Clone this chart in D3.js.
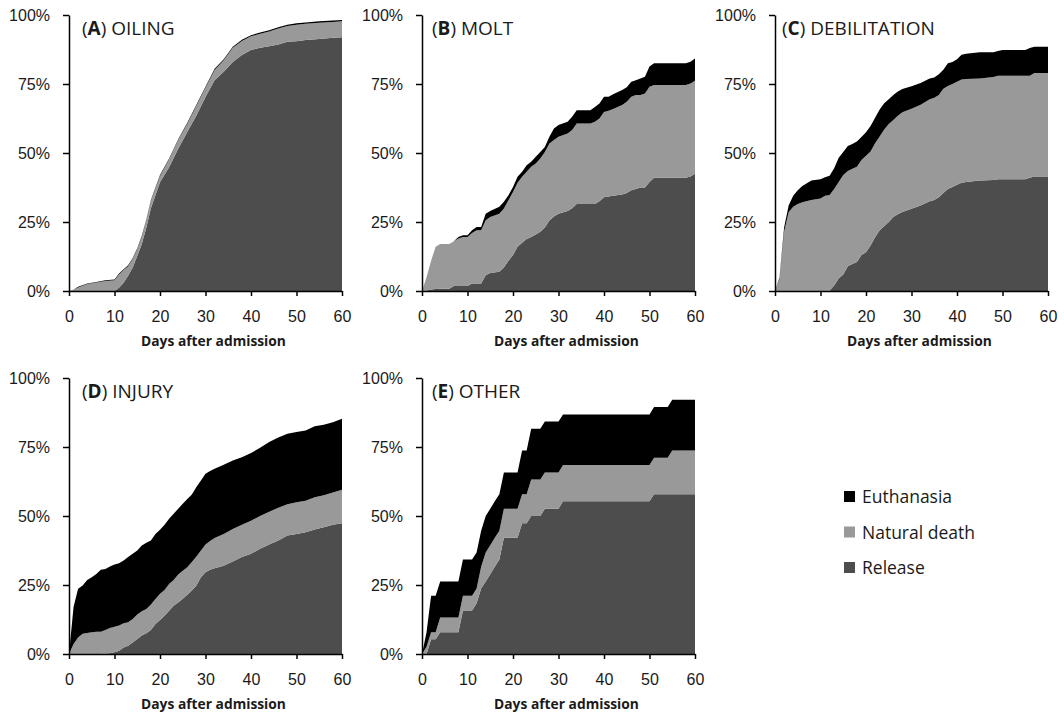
<!DOCTYPE html>
<html>
<head>
<meta charset="utf-8">
<script src="https://cdn.jsdelivr.net/npm/d3@7"></script>
<style>
  body { margin: 0; background: #fff; }
  svg { display: block; font-family: "Open Sans", sans-serif; }
  .axis path, .axis line { stroke: #000; stroke-width: 1.5; }
  .axis text { font-size: 16px; fill: #1a1a1a; }
</style>
</head>
<body>
<div id="chart"></div>
<script>
/* Values are percent of birds */
const causes = ["Release", "Natural death", "Euthanasia"];

const daysA = [0,1,2,4,6,8,10,11,12,13,14,15,16,17,18,20,22,24,26,28,30,32,34,36,38,40,42,44,46,48,50,52,55,58,60];
const releaseA = [0,0,0,0,0,0,0,1.2,3,5.5,8.5,12.7,17,23,30,39.4,44.8,51.5,57.6,63.6,70.3,76.4,79.4,83,85.5,87.3,88.1,88.7,89.3,90.3,90.5,90.9,91.3,91.8,91.9];
const naturalA = [0,0.5,1.3,2.5,3.1,3.6,3.9,4.8,4.6,3.5,3.2,2.5,2.7,2.7,2.7,2.3,2.9,3.2,3.0,3.5,3.3,3.7,4.2,5.1,5.1,5.0,5.1,5.3,5.8,5.7,6.0,5.9,5.9,5.7,5.8];
const euthA = [0,0,0.2,0.2,0.2,0.3,0.3,0.3,0.3,0.3,0.3,0.3,0.3,0.3,0.3,0.3,0.3,0.3,0.4,0.4,0.4,0.4,0.4,0.4,0.4,0.4,0.5,0.5,0.5,0.5,0.5,0.5,0.5,0.5,0.5];

const daysB = [0,1,2,3,4,6,7,8,9,10,11,12,13,14,15,17,18,19,20,21,22,23,24,25,26,27,28,29,30,32,33,34,37,38,39,40,41,42,44,45,46,47,48,49,50,51,58,59,60];
const releaseB = [0,0.2,0.5,0.7,0.8,0.8,1.8,1.8,1.8,1.8,2.7,2.7,2.7,5.7,6.5,7,8.5,11,13,16,17.5,18.8,19.6,20.5,21.5,23,25.5,27,28,29,30,31.5,31.5,31.5,32.5,34,34.2,34.5,35,35.5,36.5,37,37.5,37.5,39.5,41,41,41.5,42.5];
const naturalB = [0,4.8,10.5,15.3,16.2,16.2,16.2,17.2,17.8,17.8,18.3,19.3,19.3,19.9,20.3,21,21.4,21.9,22.9,23.2,23.9,24.4,25.4,25.7,26.5,27.4,27.9,27.7,27.9,28.1,28.3,29.2,29.2,29.8,30,30.9,31.1,31.4,32.4,33.1,33.9,34,33.5,34.1,34.5,33.6,33.6,33.7,33.7];
const euthB = [0,0,0,0,0,0,0,0.6,0.6,0.6,1,1.2,1.2,2.4,2.2,2.5,2.4,1.8,1.8,2.2,1.8,2.4,1.8,2.4,2.4,1.8,2.5,4.2,4.2,4.2,4.8,4.8,4.8,5.4,5.4,5.5,5.1,5.4,5.4,5.2,5.4,5.4,6,6,7.3,7.9,7.9,7.9,8];

const daysC = [0,1,2,3,4,5,6,8,10,11,12,13,14,15,16,17,18,19,20,21,22,23,24,25,26,27,28,30,32,34,35,36,37,38,39,40,41,42,45,48,49,50,55,56,57,60];
const releaseC = [0,0,0,0,0,0,0,0,0,0,0.2,2,4.5,6,9,9.8,10.5,13,14,16.5,19.5,22,23.5,25,26.8,27.8,28.6,29.8,31,32.5,33,34,35.5,37,37.7,38.5,39.2,39.5,40,40.2,40.5,40.5,40.5,41,41.5,41.5];
const naturalC = [0,4.5,21.5,28.5,30.5,31.5,32.2,33,33.5,34.5,34.6,35,35,36,34.5,34.5,34.5,34.5,35,34,34,34,35,35.5,35.2,35.7,36.2,36.2,36.5,37,37,37,37.8,37.3,37.3,37.3,37.4,37.3,37,37.3,37.5,37.5,37.5,37,37.5,37.5];
const euthC = [0,0.5,1.5,2.5,4,5,5.8,7,7,6.7,7,7.5,8.8,8.4,9,9,9.2,8.3,8.5,9.3,9.3,9.8,9.5,9,9,8.8,8.4,8.2,7.9,7.5,7.4,7.5,6.9,8.2,8,8.2,9,9.2,9.5,9,9,9.3,9.3,10,9.5,9.5];

const daysD = [0,1,2,3,4,5,6,7,8,9,10,11,12,13,14,15,16,17,18,19,20,21,22,23,24,25,26,27,28,29,30,31,32,34,36,38,40,42,44,46,48,50,52,54,56,58,60];
const releaseD = [0,0,0,0,0,0,0,0,0.2,0.3,0.6,1.2,2.4,3,4.2,5.4,6.7,7.5,8.7,10.9,12.3,13.9,15.7,17.5,18.7,20,21.5,23,24.8,27.8,29.6,30.5,31.1,32,33.5,35.1,36.3,38.1,39.7,41.1,42.9,43.5,44.1,45.1,45.9,46.8,47.4];
const naturalD = [0,3.6,6,7.3,7.6,7.9,8.1,8.1,8.5,9.1,9.3,9.1,8.7,8.5,8.5,8.9,8.8,8.8,9.2,9,9.5,9.3,9.7,9.3,10.1,10.2,9.9,10.3,10.5,9.7,10.1,10.4,10.9,11.5,11.8,11.7,12,11.9,11.8,11.9,11.4,11.5,11.4,11.7,11.6,11.7,12.1];
const euthD = [0,13.4,17.6,17.5,19.2,19.9,20.9,22.4,22.1,22.3,22.5,22.6,22.8,23.6,23.6,23.2,23.8,24,23.2,23.6,23.2,23.6,23.6,24,23.8,24.2,24.8,24.5,25.2,25.4,25.6,25.4,25.1,25.1,24.8,24.5,24.5,24.7,25.3,25.4,25.5,25.4,25.5,25.7,25.6,25.5,25.7];

const daysE = [0,1,2,3,4,8,9,11,12,13,14,15,16,17,18,21,22,23,24,26,27,30,31,50,51,54,55,60];
const releaseE = [0,0,5.3,5.3,7.9,7.9,15.8,15.8,18.4,23.7,26.3,28.9,31.6,34.2,42.1,42.1,47.4,47.4,50,50,52.6,52.6,55.3,55.3,57.9,57.9,57.9,57.9];
const naturalE = [0,2.6,2.6,2.6,5.3,5.3,5.3,5.3,5.3,7.9,10.5,10.5,10.5,10.5,10.5,10.5,10.5,10.5,13.2,13.2,13.2,13.2,13.2,13.2,13.2,13.2,15.8,15.8];
const euthE = [0,5.3,13.2,13.2,13.1,13.1,13.1,13.1,13.1,13.1,13.2,13.2,13.2,13.2,13.2,13.2,15.8,15.8,18.4,18.4,18.4,18.4,18.3,18.3,18.4,18.4,18.4,18.4];

const xTicks = [0, 10, 20, 30, 40, 50, 60];
const yTicks = [0, 25, 50, 75, 100];

const panels = [
    {letter: "A", name: "OILING", days: daysA, release: releaseA, natural: naturalA, euth: euthA},
    {letter: "B", name: "MOLT", days: daysB, release: releaseB, natural: naturalB, euth: euthB},
    {letter: "C", name: "DEBILITATION", days: daysC, release: releaseC, natural: naturalC, euth: euthC},
    {letter: "D", name: "INJURY", days: daysD, release: releaseD, natural: naturalD, euth: euthD},
    {letter: "E", name: "OTHER", days: daysE, release: releaseE, natural: naturalE, euth: euthE}
];

/* layout */
const width = 1064, height = 715;
const pw = 273, ph = 276;
const origins = [[69, 15], [422, 15], [775, 15], [69, 378], [422, 378]];
const titleDx = [13, 10, 7, 13, 10];
const colors = {release: "#4d4d4d", natural: "#999999", euth: "#000000"};

const svg = d3.select("#chart").append("svg")
    .attr("width", width)
    .attr("height", height);

const x = d3.scaleLinear().domain([0, 60]).range([0, pw]);
const y = d3.scaleLinear().domain([0, 100]).range([ph, 0]);

const stack = d3.stack().keys(["release", "natural", "euth"]);
const area = d3.area()
    .x(d => x(d.data.day))
    .y0(d => y(d[0]))
    .y1(d => y(d[1]));

panels.forEach((p, i) => {
    const g = svg.append("g")
        .attr("transform", "translate(" + origins[i][0] + "," + origins[i][1] + ")");

    const rows = p.days.map((day, j) => ({
        day: day,
        release: p.release[j],
        natural: p.natural[j],
        euth: p.euth[j]
    }));

    g.selectAll("path.layer")
        .data(stack(rows))
        .join("path")
            .attr("class", "layer")
            .attr("fill", d => colors[d.key])
            .attr("d", area);

    /* y axis */
    g.append("g")
        .attr("class", "axis")
        .call(d3.axisLeft(y)
            .tickValues(yTicks)
            .tickSize(6)
            .tickSizeOuter(0)
            .tickPadding(13)
            .tickFormat(d => d + "%"));

    /* x axis */
    g.append("g")
        .attr("class", "axis")
        .attr("transform", "translate(0," + ph + ")")
        .call(d3.axisBottom(x)
            .tickValues(xTicks)
            .tickSize(5)
            .tickSizeOuter(0)
            .tickPadding(15));

    g.append("text")
        .attr("x", pw / 2 + 8)
        .attr("y", ph + 55)
        .attr("text-anchor", "middle")
        .attr("font-size", 13.8)
        .attr("font-weight", "bold")
        .attr("fill", "#1a1a1a")
        .text("Days after admission");

    /* panel title: (A) OILING */
    const t = g.append("text")
        .attr("x", titleDx[i])
        .attr("y", 20)
        .attr("font-size", 19)
        .attr("fill", "#1a1a1a");
    t.append("tspan").text("(");
    t.append("tspan").attr("font-weight", "bold").text(p.letter);
    t.append("tspan").text(") " + p.name);
});

/* legend */
const legendKeys = ["euth", "natural", "release"];
const legendLabels = ["Euthanasia", "Natural death", "Release"];
const legend = svg.append("g").attr("transform", "translate(844,491)");
legendKeys.forEach((k, i) => {
    legend.append("rect")
        .attr("x", 0)
        .attr("y", i * 35.5)
        .attr("width", 11)
        .attr("height", 11)
        .attr("fill", colors[k]);
    legend.append("text")
        .attr("x", 18)
        .attr("y", i * 35.5 + 12)
        .attr("font-size", 17.5)
        .attr("fill", "#1a1a1a")
        .text(legendLabels[i]);
});
</script>
</body>
</html>
